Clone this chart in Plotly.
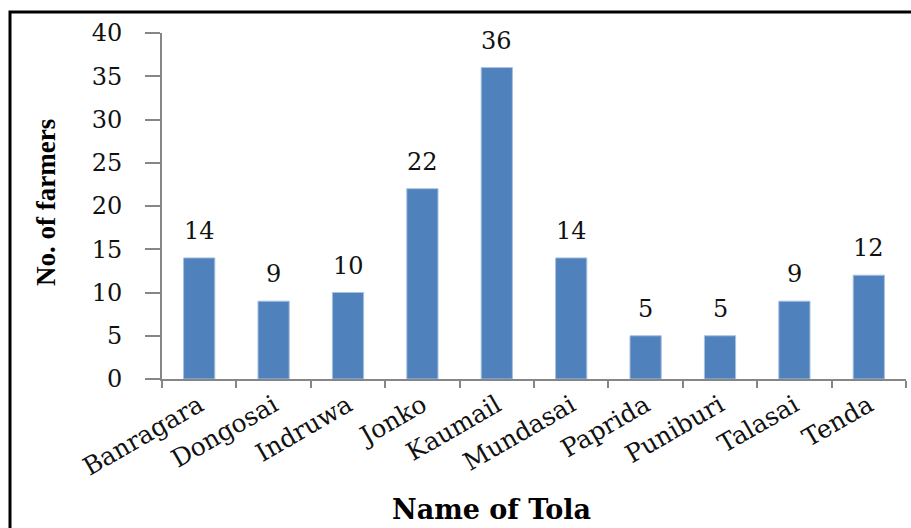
import plotly.graph_objects as go

# Farmers surveyed in each tola
tolas = ["Banragara", "Dongosai", "Indruwa", "Jonko", "Kaumail",
         "Mundasai", "Paprida", "Puniburi", "Talasai", "Tenda"]
farmers = [14, 9, 10, 22, 36, 14, 5, 5, 9, 12]
y_ticks = [0, 5, 10, 15, 20, 25, 30, 35, 40]

W, H = 911, 528
L, R, T, B = 162, 5, 33, 149
pw, ph = W - L - R, H - T - B

def px_x(x):
    return (x - L) / pw

def px_y(y):
    return (H - B - y) / ph

serif = "DejaVu Serif"
bar_blue = "#4F81BD"
axis_grey = "#868686"

fig = go.Figure()
fig.add_trace(go.Bar(
    x=tolas, y=farmers,
    marker=dict(color=bar_blue, line=dict(color="#a9c1e0", width=1)),
    width=0.42,
    hoverinfo="x+y",
))

# value labels above bars
for name, v in zip(tolas, farmers):
    fig.add_annotation(
        x=name, y=v, xref="x", yref="y",
        text=str(v), showarrow=False,
        yanchor="bottom", yshift=11,
        font=dict(family=serif, size=24, color="#111111"),
    )

# axis titles
fig.add_annotation(
    x=px_x(46), y=px_y(203), xref="paper", yref="paper",
    text="<b>No. of farmers</b>", textangle=-90, showarrow=False,
    xanchor="center", yanchor="middle",
    font=dict(family="Liberation Serif", size=27, color="#000000"),
)
fig.add_annotation(
    x=px_x(491), y=px_y(527), xref="paper", yref="paper",
    text="<b>Name of Tola</b>", showarrow=False,
    xanchor="center", yanchor="bottom",
    font=dict(family=serif, size=27, color="#000000"),
)

# outer frame
fig.add_shape(
    type="rect", xref="paper", yref="paper",
    x0=px_x(10), x1=px_x(960), y0=px_y(600), y1=px_y(12),
    line=dict(color="#000000", width=3), fillcolor="rgba(0,0,0,0)",
    layer="above",
)

fig.update_layout(
    width=W, height=H,
    margin=dict(l=L, r=R, t=T, b=B, pad=0),
    paper_bgcolor="#ffffff", plot_bgcolor="#ffffff",
    showlegend=False,
    xaxis=dict(
        range=[-0.5, 9.5],
        showline=True, linecolor=axis_grey, linewidth=2,
        ticks="outside", tickson="boundaries", ticklen=7,
        tickcolor=axis_grey, tickwidth=2,
        tickangle=-30,
        tickfont=dict(family=serif, size=25, color="#111111"),
        showgrid=False, zeroline=False,
    ),
    yaxis=dict(
        range=[0, 40], tickvals=y_ticks,
        showline=True, linecolor=axis_grey, linewidth=2,
        ticks="outside", ticklen=15, tickcolor=axis_grey, tickwidth=2,
        ticklabelstandoff=18,
        tickfont=dict(family=serif, size=24, color="#111111"),
        showgrid=False, zeroline=False,
    ),
)

fig.write_html("out.html")
